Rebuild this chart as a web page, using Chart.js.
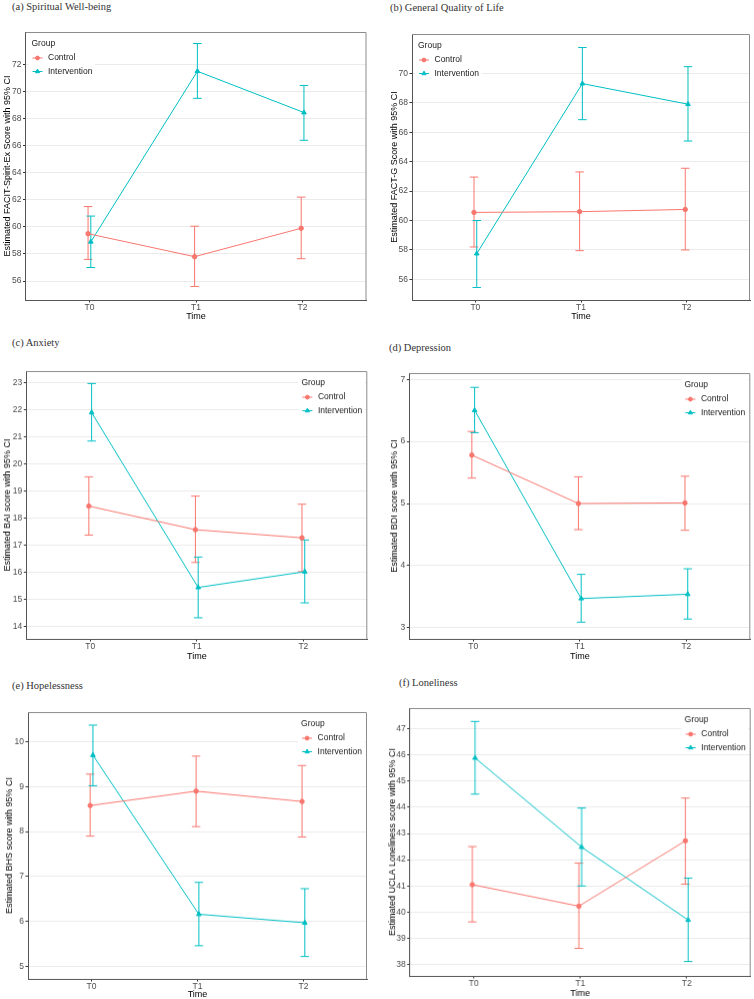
<!DOCTYPE html>
<html>
<head>
<meta charset="utf-8">
<script src="https://cdn.jsdelivr.net/npm/chart.js"></script>
<style>
html, body { margin: 0; padding: 0; background: #fff; overflow: hidden; }
body { width: 754px; height: 999px; position: relative; }
.ttl { position: absolute; font-family: "Liberation Serif", serif; font-weight: normal; font-size: 10.5px; line-height: 12px; color: #333; white-space: nowrap; }
.box { position: absolute; }
</style>
</head>
<body>
<script>
var times = ["T0", "T1", "T2"];
var groupNames = ["Control", "Intervention"];

// (a) FACIT-Spirit-Ex
var spiritCtrl = [59.5, 57.8, 59.9];
var spiritCtrlLo = [57.6, 55.6, 57.65];
var spiritCtrlHi = [61.5, 60.05, 62.2];
var spiritInt = [58.9, 71.5, 68.45];
var spiritIntLo = [57.0, 69.5, 66.4];
var spiritIntHi = [60.8, 73.55, 70.45];
var spiritTicks = [56, 58, 60, 62, 64, 66, 68, 70, 72];

// (b) FACT-G
var qolCtrl = [60.55, 60.6, 60.75];
var qolCtrlLo = [58.2, 57.95, 58.0];
var qolCtrlHi = [62.95, 63.3, 63.55];
var qolInt = [57.75, 69.3, 67.9];
var qolIntLo = [55.45, 66.85, 65.4];
var qolIntHi = [60.0, 71.75, 70.45];
var qolTicks = [56, 58, 60, 62, 64, 66, 68, 70];

// (c) BAI
var baiCtrl = [18.45, 17.58, 17.28];
var baiCtrlLo = [17.38, 16.37, 16.03];
var baiCtrlHi = [19.53, 18.82, 18.52];
var baiInt = [21.9, 15.45, 16.03];
var baiIntLo = [20.85, 14.33, 14.88];
var baiIntHi = [22.97, 16.57, 17.2];
var baiTicks = [14, 15, 16, 17, 18, 19, 20, 21, 22, 23];

// (d) BDI
var bdiCtrl = [5.78, 5.0, 5.01];
var bdiCtrlLo = [5.41, 4.58, 4.57];
var bdiCtrlHi = [6.16, 5.43, 5.44];
var bdiInt = [6.5, 3.47, 3.54];
var bdiIntLo = [6.14, 3.09, 3.14];
var bdiIntHi = [6.87, 3.86, 3.95];
var bdiTicks = [3, 4, 5, 6, 7];

// (e) BHS
var bhsCtrl = [8.58, 8.9, 8.67];
var bhsCtrlLo = [7.9, 8.11, 7.88];
var bhsCtrlHi = [9.28, 9.68, 9.47];
var bhsInt = [9.7, 6.16, 5.97];
var bhsIntLo = [9.02, 5.46, 5.22];
var bhsIntHi = [10.37, 6.87, 6.73];
var bhsTicks = [5, 6, 7, 8, 9, 10];

// (f) UCLA loneliness
var uclaCtrl = [41.05, 40.23, 42.72];
var uclaCtrlLo = [39.63, 38.62, 41.07];
var uclaCtrlHi = [42.5, 41.87, 44.35];
var uclaInt = [45.88, 42.48, 39.7];
var uclaIntLo = [44.5, 41.0, 38.12];
var uclaIntHi = [47.27, 43.97, 41.3];
var uclaTicks = [38, 39, 40, 41, 42, 43, 44, 45, 46, 47];

var RED = "#F8766D", TEAL = "#00BFC4";
var DODGE = 0.013;

var panels = [
  {title: "(a) Spiritual Well-being", ylab: "Estimated FACIT-Spirit-Ex Score with 95% CI",
   c: [spiritCtrl, spiritCtrlLo, spiritCtrlHi], i: [spiritInt, spiritIntLo, spiritIntHi], ticks: spiritTicks,
   ymin: 54.6, ymax: 74.4, plot: {l: 25, t: 32, r: 366, b: 300}, ylabX: 6.5, timeY: 316.5, tx: 12, ty: 6.5, legend: "left"},
  {title: "(b) General Quality of Life", ylab: "Estimated FACT-G Score with 95% CI",
   c: [qolCtrl, qolCtrlLo, qolCtrlHi], i: [qolInt, qolIntLo, qolIntHi], ticks: qolTicks,
   ymin: 54.6, ymax: 72.67, plot: {l: 412, t: 34, r: 750, b: 300}, ylabX: 394, timeY: 316.5, tx: 390, ty: 7.5, legend: "left"},
  {title: "(c) Anxiety", ylab: "Estimated BAI score with 95% CI",
   c: [baiCtrl, baiCtrlLo, baiCtrlHi], i: [baiInt, baiIntLo, baiIntHi], ticks: baiTicks,
   ymin: 13.55, ymax: 23.43, plot: {l: 26, t: 371, r: 367, b: 638}, ylabX: 6.7, timeY: 655, tx: 12, ty: 342.5, legend: "right"},
  {title: "(d) Depression", ylab: "Estimated BDI score with 95% CI",
   c: [bdiCtrl, bdiCtrlLo, bdiCtrlHi], i: [bdiInt, bdiIntLo, bdiIntHi], ticks: bdiTicks,
   ymin: 2.82, ymax: 7.1, plot: {l: 409, t: 373, r: 750, b: 638}, ylabX: 393.7, timeY: 655, tx: 389, ty: 348, legend: "right"},
  {title: "(e) Hopelessness", ylab: "Estimated BHS score with 95% CI",
   c: [bhsCtrl, bhsCtrlLo, bhsCtrlHi], i: [bhsInt, bhsIntLo, bhsIntHi], ticks: bhsTicks,
   ymin: 4.72, ymax: 10.66, plot: {l: 28, t: 712, r: 367, b: 978}, ylabX: 9, timeY: 993, tx: 12, ty: 686, legend: "right"},
  {title: "(f) Loneliness", ylab: "Estimated UCLA Loneliness score with 95% CI",
   c: [uclaCtrl, uclaCtrlLo, uclaCtrlHi], i: [uclaInt, uclaIntLo, uclaIntHi], ticks: uclaTicks,
   ymin: 37.57, ymax: 47.78, plot: {l: 410, t: 708, r: 750, b: 975}, ylabX: 392.3, timeY: 992.3, tx: 399, ty: 682.5, legend: "right"}
];

var FONT = "'Liberation Sans', Arial, sans-serif";

// error bars drawn from each dataset's lo / hi arrays
var errorBars = {
  id: "errorBars",
  beforeDatasetsDraw: function(chart) {
    var ctx = chart.ctx, xs = chart.scales.x, ys = chart.scales.y;
    chart.data.datasets.forEach(function(ds, di) {
      var meta = chart.getDatasetMeta(di);
      ctx.save();
      ctx.strokeStyle = ds.borderColor;
      ctx.lineWidth = 1;
      meta.data.forEach(function(pt, k) {
        var xv = ds.data[k].x;
        var x = pt.x;
        var y1 = ys.getPixelForValue(ds.lo[k]);
        var y2 = ys.getPixelForValue(ds.hi[k]);
        var xa = xs.getPixelForValue(xv - 0.04), xb = xs.getPixelForValue(xv + 0.04);
        ctx.beginPath();
        ctx.moveTo(x, y1); ctx.lineTo(x, y2);
        ctx.moveTo(xa, y1); ctx.lineTo(xb, y1);
        ctx.moveTo(xa, y2); ctx.lineTo(xb, y2);
        ctx.stroke();
      });
      ctx.restore();
    });
  }
};

// top/right panel border + ggplot style legend inside the panel
var panelDeco = {
  id: "panelDeco",
  afterDraw: function(chart, args, opts) {
    var ctx = chart.ctx, a = chart.chartArea;
    ctx.save();
    ctx.strokeStyle = "#8c8c8c";
    ctx.lineWidth = 1;
    ctx.beginPath();
    ctx.moveTo(a.left, a.top + 0.5); ctx.lineTo(a.right - 0.5, a.top + 0.5); ctx.lineTo(a.right - 0.5, a.bottom);
    ctx.stroke();

    ctx.font = "8.5px " + FONT;
    var textW = ctx.measureText(groupNames[1]).width;
    var keyX = opts.side === "left" ? a.left + 7 : a.right - 5 - 15.5 - textW;
    var top = a.top;
    ctx.fillStyle = "#fff";
    ctx.fillRect(keyX - 4, top + 4, textW + 22, 42);
    ctx.textBaseline = "middle";
    ctx.fillStyle = "#1a1a1a";
    ctx.fillText("Group", keyX - 1, top + 12);
    chart.data.datasets.forEach(function(ds, k) {
      var y = top + 26 + k * 13.5;
      ctx.strokeStyle = ds.borderColor;
      ctx.fillStyle = ds.borderColor;
      ctx.lineWidth = 1;
      ctx.beginPath(); ctx.moveTo(keyX, y); ctx.lineTo(keyX + 10, y); ctx.stroke();
      Chart.helpers.drawPoint(ctx, {pointStyle: ds.pointStyle, radius: ds.pointRadius - 0.3, borderWidth: 1, rotation: 0}, keyX + 5, y);
      ctx.fillStyle = "#1a1a1a";
      ctx.fillText(groupNames[k], keyX + 15.5, y);
    });
    ctx.restore();
  }
};

panels.forEach(function(p) {
  var t = document.createElement("div");
  t.className = "ttl";
  t.style.left = p.tx + "px";
  t.style.top = (p.ty - 6) + "px";
  t.textContent = p.title;
  document.body.appendChild(t);

  var left = p.ylabX - 5;
  var top = p.plot.t - 14;
  var right = p.plot.r + 12;
  var bottom = p.timeY + 5.5;
  var w = right - left, h = bottom - top;
  var box = document.createElement("div");
  box.className = "box";
  box.style.left = left + "px";
  box.style.top = top + "px";
  box.style.width = w + "px";
  box.style.height = h + "px";
  var cv = document.createElement("canvas");
  box.appendChild(cv);
  document.body.appendChild(box);

  var yW = p.plot.l - left;
  var xH = bottom - p.plot.b;

  new Chart(cv, {
    type: "line",
    data: {
      datasets: [{
        label: groupNames[0],
        data: p.c[0].map(function(v, k) { return {x: k - DODGE, y: v}; }),
        lo: p.c[1], hi: p.c[2],
        borderColor: RED, backgroundColor: RED, borderWidth: 1,
        pointStyle: "circle", pointRadius: 2.2, pointBorderWidth: 1, tension: 0
      }, {
        label: groupNames[1],
        data: p.i[0].map(function(v, k) { return {x: k + DODGE, y: v}; }),
        lo: p.i[1], hi: p.i[2],
        borderColor: TEAL, backgroundColor: TEAL, borderWidth: 1,
        pointStyle: "triangle", pointRadius: 2.7, pointBorderWidth: 1, tension: 0
      }]
    },
    options: {
      responsive: true,
      maintainAspectRatio: false,
      animation: false,
      layout: {padding: {top: 14, right: 12, left: 0, bottom: 0}},
      plugins: {legend: {display: false}, tooltip: {enabled: false}, panelDeco: {side: p.legend}},
      scales: {
        x: {
          type: "linear", min: -0.6, max: 2.6,
          afterBuildTicks: function(s) { s.ticks = times.map(function(_, k) { return {value: k}; }); },
          afterFit: function(s) { s.height = xH; },
          ticks: {callback: function(v) { return times[v]; }, font: {size: 8.5, family: FONT}, color: "#4d4d4d", padding: 0, maxRotation: 0, autoSkip: false},
          grid: {drawOnChartArea: false, tickLength: 2.5, tickColor: "#333", color: "#333"},
          border: {color: "#555", width: 1},
          title: {display: true, text: "Time", font: {size: 9, family: FONT}, color: "#000", padding: 0}
        },
        y: {
          min: p.ymin, max: p.ymax,
          afterBuildTicks: function(s) { s.ticks = p.ticks.map(function(v) { return {value: v}; }); },
          afterFit: function(s) { s.width = yW; },
          ticks: {font: {size: 8.5, family: FONT}, color: "#4d4d4d", padding: 1.5},
          grid: {color: "#ebebeb", tickLength: 2.5, tickColor: "#333", lineWidth: 1},
          border: {color: "#555", width: 1},
          title: {display: true, text: p.ylab, font: {size: 9, family: FONT}, color: "#000", padding: 0}
        }
      }
    },
    plugins: [errorBars, panelDeco]
  });
});
</script>
</body>
</html>
